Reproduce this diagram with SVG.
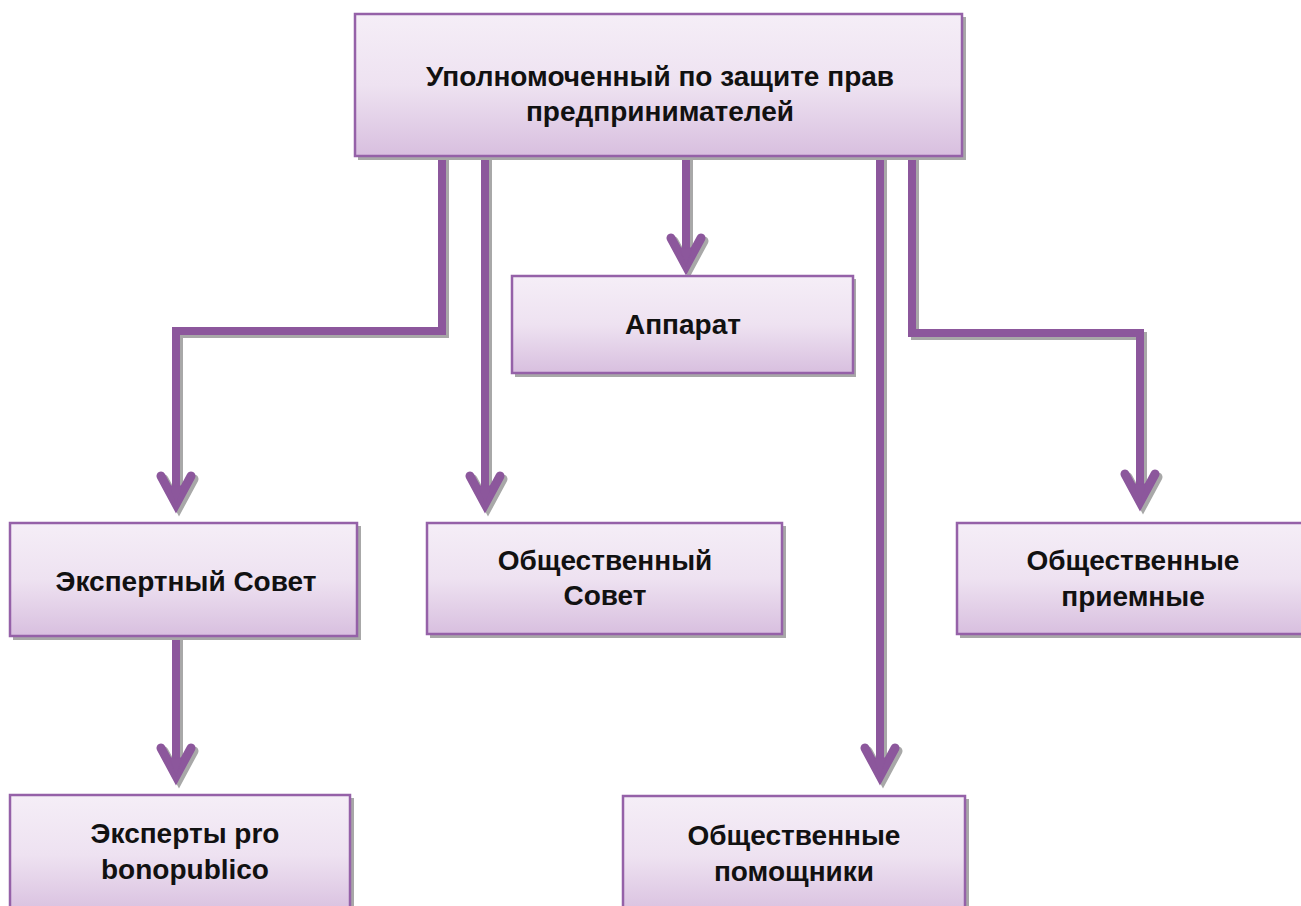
<svg xmlns="http://www.w3.org/2000/svg" width="1301" height="906" viewBox="0 0 1301 906">
<defs>
<linearGradient id="g" x1="0" y1="0" x2="0" y2="1">
<stop offset="0" stop-color="#f5eef7"/>
<stop offset="0.5" stop-color="#eee2f1"/>
<stop offset="1" stop-color="#d8bfdf"/>
</linearGradient>
<g id="ah"><path d="M-15,-30 L0,-2 L15,-30" fill="none" stroke-width="9" stroke-linecap="round" stroke-linejoin="miter"/><path d="M-6,-20 L6,-20 L0,-1 Z"/></g>
</defs>
<style>
.box{fill:url(#g);stroke:#9561a8;stroke-width:2.5}
.sh{fill:#a8a8a8}
.t{font-family:"Liberation Sans",Arial,sans-serif;font-weight:bold;font-size:28px;fill:#111;text-anchor:middle}
.c{fill:none;stroke:#8c579c;stroke-width:8}
.cs{fill:none;stroke:#a8a8a8;stroke-width:8}
.a{fill:#8c579c;stroke:#8c579c}
.as{fill:#a8a8a8;stroke:#a8a8a8}
</style>
<g id="connectors">
<g transform="translate(3,3)">
<path class="cs" d="M442,157 V331 H176 V500"/>
<path class="cs" d="M485,157 V500"/>
<path class="cs" d="M686,157 V262"/>
<path class="cs" d="M880,157 V772"/>
<path class="cs" d="M912,157 V333 H1140 V498"/>
<path class="cs" d="M176,637 V772"/>
<use href="#ah" class="as" x="176" y="506"/>
<use href="#ah" class="as" x="485" y="506"/>
<use href="#ah" class="as" x="686" y="268"/>
<use href="#ah" class="as" x="880" y="778"/>
<use href="#ah" class="as" x="1140" y="504"/>
<use href="#ah" class="as" x="176" y="778"/>
</g>
<path class="c" d="M442,157 V331 H176 V500"/>
<path class="c" d="M485,157 V500"/>
<path class="c" d="M686,157 V262"/>
<path class="c" d="M880,157 V772"/>
<path class="c" d="M912,157 V333 H1140 V498"/>
<path class="c" d="M176,637 V772"/>
<use href="#ah" class="a" x="176" y="506"/>
<use href="#ah" class="a" x="485" y="506"/>
<use href="#ah" class="a" x="686" y="268"/>
<use href="#ah" class="a" x="880" y="778"/>
<use href="#ah" class="a" x="1140" y="504"/>
<use href="#ah" class="a" x="176" y="778"/>
</g>
<g id="n-top">
<rect class="sh" x="358" y="17" width="608" height="143"/>
<rect class="box" x="355" y="14" width="607" height="142"/>
<text class="t" x="660" y="86">Уполномоченный по защите прав</text>
<text class="t" x="660" y="121">предпринимателей</text>
</g>
<g id="n-apparat">
<rect class="sh" x="515" y="279" width="341" height="98"/>
<rect class="box" x="512" y="276" width="341" height="97"/>
<text class="t" x="683" y="334">Аппарат</text>
</g>
<g id="n-expert">
<rect class="sh" x="13" y="526" width="348" height="114"/>
<rect class="box" x="10" y="523" width="347" height="113"/>
<text class="t" x="186" y="591">Экспертный Совет</text>
</g>
<g id="n-obsovet">
<rect class="sh" x="430" y="526" width="356" height="112"/>
<rect class="box" x="427" y="523" width="355" height="111"/>
<text class="t" x="605" y="570">Общественный</text>
<text class="t" x="605" y="605">Совет</text>
</g>
<g id="n-priem">
<rect class="sh" x="960" y="526" width="345" height="112"/>
<rect class="box" x="957" y="523" width="346" height="111"/>
<text class="t" x="1133" y="570">Общественные</text>
<text class="t" x="1133" y="606">приемные</text>
</g>
<g id="n-eksperty">
<rect class="sh" x="13" y="798" width="341" height="120"/>
<rect class="box" x="10" y="795" width="340" height="120"/>
<text class="t" x="185" y="843">Эксперты pro</text>
<text class="t" x="185" y="879">bonopublico</text>
</g>
<g id="n-pomosh">
<rect class="sh" x="626" y="799" width="343" height="120"/>
<rect class="box" x="623" y="796" width="342" height="120"/>
<text class="t" x="794" y="845">Общественные</text>
<text class="t" x="794" y="881">помощники</text>
</g>
</svg>
